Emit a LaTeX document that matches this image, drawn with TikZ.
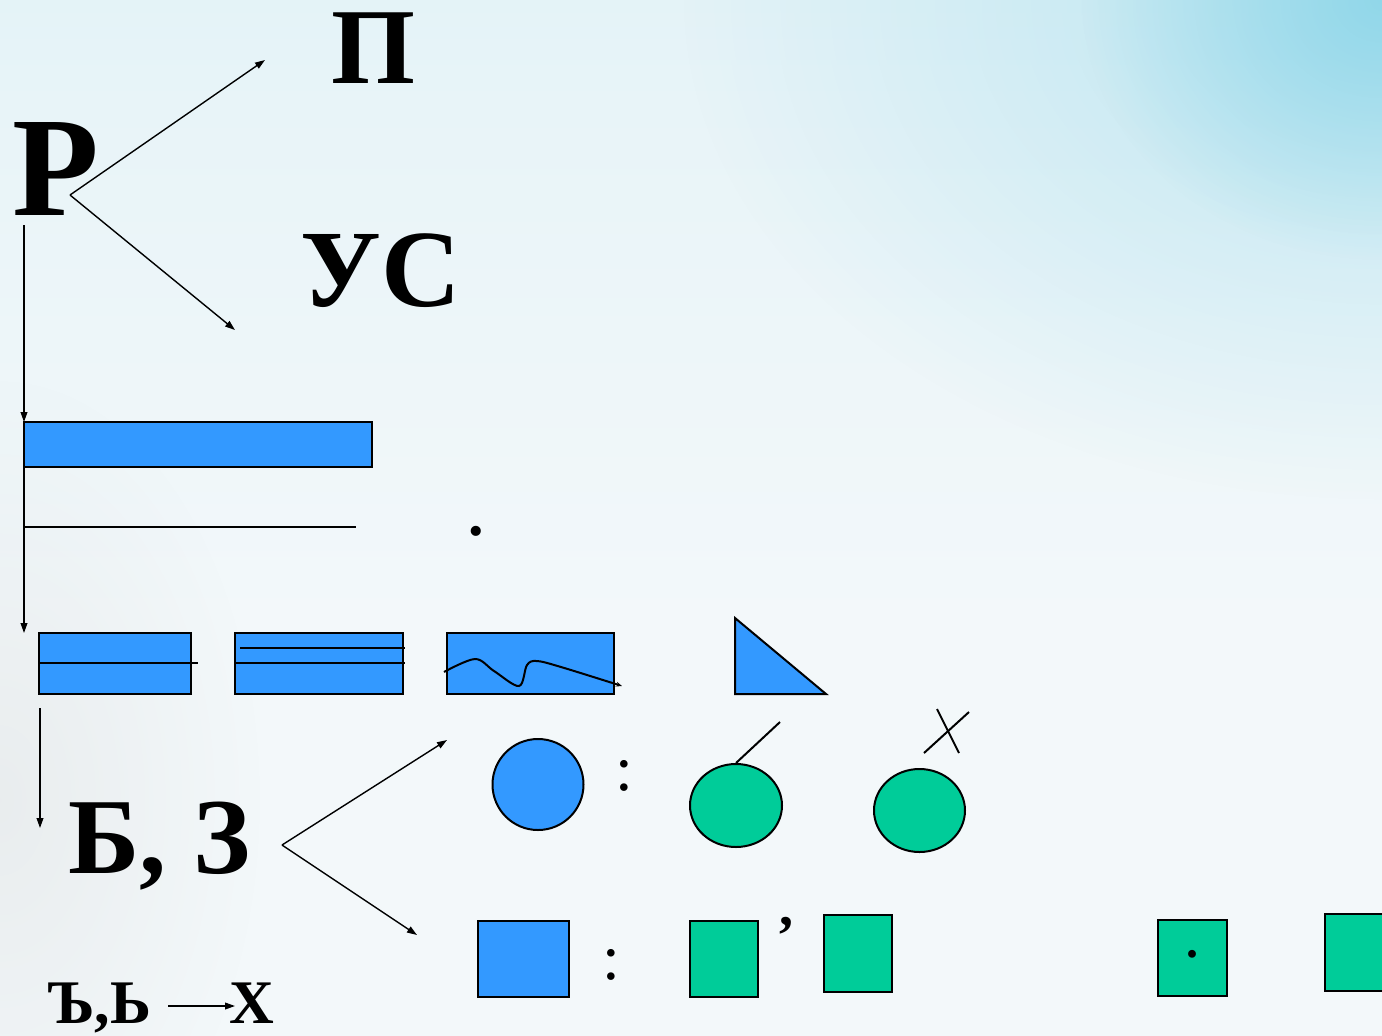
\documentclass[tikz,border=0pt]{standalone}
\usepackage{fontspec}
\setmainfont{Liberation Serif}
\usetikzlibrary{arrows.meta,fadings}
\definecolor{bgtop}{RGB}{208,237,244}
\definecolor{bgmid}{RGB}{232,244,248}
\definecolor{bgbot}{RGB}{243,248,250}
\definecolor{corner}{RGB}{135,212,232}
\definecolor{shblue}{RGB}{51,153,255}
\definecolor{shgreen}{RGB}{0,204,153}
\pgfdeclareverticalshading{bgshade}{100bp}{color(0bp)=(bgbot); color(45bp)=(bgbot); color(70bp)=(bgmid); color(100bp)=(bgtop)}
\tikzfading[name=softdisc, inner color=transparent!0, outer color=transparent!100]
\begin{document}
\begin{tikzpicture}[x=0.5pt,y=-0.5pt,
  lbl/.style={inner sep=0pt,anchor=base west,font=\bfseries\fontsize{#1}{#1}\selectfont},
  plain/.style={inner sep=0pt,anchor=base west,font=\fontsize{#1}{#1}\selectfont},
  arr/.style={line width=0.7pt,-{Triangle[length=5pt,width=3.4pt]}},
  ln/.style={line width=0.7pt},
  bluebox/.style={draw=black,line width=1pt,fill=shblue},
  greenbox/.style={draw=black,line width=1pt,fill=shgreen},
  inln/.style={line width=1pt}]
% background
\useasboundingbox (0,0) rectangle (1382,1035);
\shade[shading=bgshade] (0,0) rectangle (1382,1035);
\fill[corner,opacity=0.45,path fading=softdisc] (1382,0) ellipse (700 and 500);
\fill[corner,opacity=0.8,path fading=softdisc] (1382,0) ellipse (300 and 260);
\fill[gray!40,opacity=0.25,path fading=softdisc] (0,800) ellipse (260 and 420);

% top labels
\node[lbl=71] (R) at (12,215) {Р};
\node[lbl=54] (P) at (331,83) {П};
\node[lbl=55] (US) at (300,306) {УС};
\coordinate (rfork) at (70,195);
\coordinate (ptip) at (265,60);
\coordinate (ustip) at (235,330);
\draw[arr] (rfork) -- (ptip);
\draw[arr] (rfork) -- (ustip);

% vertical line with two arrows
\coordinate (vtop) at (24,225);
\coordinate (vmid) at (24,422);
\coordinate (vbot) at (24,633);
\draw[bluebox] (24,422) rectangle (372,467);
\draw[arr] (vtop) -- (vmid);
\draw[arr] (vmid) -- (vbot);
\coordinate (hl1) at (24,527);
\coordinate (hl2) at (356,527);
\draw[ln] (hl1) -- (hl2);
\node[lbl=31] (dot1) at (468,535) {.};

% row of rectangles
\draw[bluebox] (39,633) rectangle (191,694);
\draw[inln] (39,663) -- (198,663);
\draw[bluebox] (235,633) rectangle (403,694);
\draw[inln] (240,648) -- (405,648);
\draw[inln] (235,663) -- (405,663);
\draw[bluebox] (447,633) rectangle (614,694);
\draw[inln,-{Stealth[length=3pt,width=2.4pt]}] plot[smooth,tension=0.55] coordinates {(444,672) (475,659) (494,671) (519,686) (527,665) (537,661) (561,667) (622,686)};
\draw[bluebox] (735,618) -- (735,694) -- (826,694) -- cycle;

% second fork
\coordinate (d2top) at (40,708);
\coordinate (d2bot) at (40,828);
\draw[arr] (d2top) -- (d2bot);
\node[lbl=54] (BZ) at (68,873) {Б, З};
\coordinate (bfork) at (282,845);
\coordinate (ctip) at (447,740);
\coordinate (stip) at (417,935);
\draw[arr] (bfork) -- (ctip);
\draw[arr] (bfork) -- (stip);

% circles row
\draw[bluebox] (538,784.5) ellipse [x radius=45.5, y radius=45.5];
\node[plain=32] (col1) at (615,790) {:};
\draw[greenbox] (736,805.5) ellipse [x radius=46, y radius=41.5];
\draw[inln] (736,763) -- (780,722);
\draw[greenbox] (919.5,810.5) ellipse [x radius=45.5, y radius=41.5];
\draw[inln] (937,709) -- (959,753);
\draw[inln] (969,712) -- (924,753);

% squares row
\draw[bluebox] (478,921) rectangle (569,997);
\node[plain=32] (col2) at (602,979) {:};
\draw[greenbox] (690,921) rectangle (758,997);
\node[lbl=28] (cm) at (779,925) {,};
\draw[greenbox] (824,915) rectangle (892,992);
\draw[greenbox] (1158,920) rectangle (1227,996);
\node[lbl=24] (dot2) at (1186,957) {.};
\draw[greenbox] (1325,914) rectangle (1392,991);

% bottom line
\node[lbl=31] (BB) at (47,1023) {Ъ,Ь};
\node[lbl=31] (X) at (229,1023) {Х};
\coordinate (xa) at (168,1006);
\coordinate (xb) at (235,1006);
\draw[arr] (xa) -- (xb);
\end{tikzpicture}
\end{document}
